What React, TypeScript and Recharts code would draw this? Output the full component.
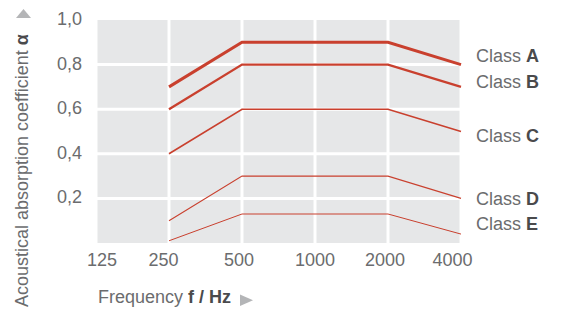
import { LineChart, Line, XAxis, YAxis, CartesianGrid, LabelList } from "recharts";

// Frequency bands (Hz) and reference curves per absorption class (ISO 11654)
const frequencies = ["125", "250", "500", "1000", "2000", "4000"];
const classA = [null, 0.7, 0.9, 0.9, 0.9, 0.8];
const classB = [null, 0.6, 0.8, 0.8, 0.8, 0.7];
const classC = [null, 0.4, 0.6, 0.6, 0.6, 0.5];
const classD = [null, 0.1, 0.3, 0.3, 0.3, 0.2];
const classE = [null, 0.01, 0.13, 0.13, 0.13, 0.04];
const yTicks = [0.2, 0.4, 0.6, 0.8, 1.0];
const gridValues = [0.2, 0.4, 0.6, 0.8];

const data = frequencies.map((f, i) => ({
  f,
  A: classA[i],
  B: classB[i],
  C: classC[i],
  D: classD[i],
  E: classE[i],
}));

const FONT = "'Liberation Sans', Arial, sans-serif";
const TEXT = "#6b6c6e";
const BOLD = "#4a4a4c";
const RED = "#c9402e";
const ARROW = "#b4b5b7";

// label nudges so the tick text sits like the original
const xLabelShift = [6, -5.5, -3, 0, -3, -8.5];

function XTick(props: any) {
  const { x, y, payload } = props;
  const i = frequencies.indexOf(String(payload.value));
  return (
    <text x={x + (xLabelShift[i] ?? 0)} y={y + 23} textAnchor="middle" fontSize={18} fill={TEXT} fontFamily={FONT}>
      {payload.value}
    </text>
  );
}

function YTick(props: any) {
  const { x, y, payload } = props;
  return (
    <text x={x - 14} y={y + 5} textAnchor="end" fontSize={18} fill={TEXT} fontFamily={FONT}>
      {Number(payload.value).toFixed(1).replace(".", ",")}
    </text>
  );
}

function classLabel(name: string, dy: number) {
  return (props: any) => {
    if (props.index !== frequencies.length - 1) return null;
    return (
      <text x={props.x + 15} y={props.y + dy} fontSize={18} fill={TEXT} fontFamily={FONT}>
        <tspan>Class </tspan>
        <tspan fontWeight={700} fill={BOLD}>{name}</tspan>
      </text>
    );
  };
}

function YTitle() {
  return (
    <g fontFamily={FONT} fontSize={18}>
      <polygon points="16,18 31,18 23.5,9" fill={ARROW} />
      <text x={28} y={307} transform="rotate(-90, 28, 307)" fill={TEXT}>
        <tspan>Acoustical absorption coefficient </tspan>
        <tspan fontWeight={700} fill={BOLD}>α</tspan>
      </text>
    </g>
  );
}

function XTitle() {
  return (
    <g fontFamily={FONT} fontSize={18}>
      <text x={98} y={303} fill={TEXT}>
        <tspan>Frequency </tspan>
        <tspan fontWeight={700} fill={BOLD}>f / Hz</tspan>
      </text>
      <polygon points="240,294.5 240,306 253,300.2" fill={ARROW} />
    </g>
  );
}

const series = [
  { key: "A", width: 3, dy: -2.6 },
  { key: "B", width: 2.4, dy: 1 },
  { key: "C", width: 1.6, dy: 10.5 },
  { key: "D", width: 1.1, dy: 6.6 },
  { key: "E", width: 1, dy: -4 },
];

export default function App() {
  return (
    <div style={{ position: "absolute", left: 0, top: 0, width: 562, height: 311, background: "#fff" }}>
      <LineChart width={562} height={311} data={data} margin={{ top: 20, right: 101, bottom: 0, left: 0 }}>
        <CartesianGrid fill="#e6e7e8" stroke="#ffffff" strokeWidth={3} horizontalValues={gridValues} />
        <XAxis
          dataKey="f"
          height={68}
          axisLine={false}
          tickLine={false}
          tickSize={0}
          tickMargin={0}
          interval={0}
          tick={<XTick />}
          label={<XTitle />}
        />
        <YAxis
          width={96}
          domain={[0, 1]}
          ticks={yTicks}
          axisLine={false}
          tickLine={false}
          tickSize={0}
          tickMargin={0}
          tick={<YTick />}
          label={<YTitle />}
        />
        {series.map((s) => (
          <Line
            key={s.key}
            type="linear"
            dataKey={s.key}
            stroke={RED}
            strokeWidth={s.width}
            dot={false}
            activeDot={false}
            isAnimationActive={false}
          >
            <LabelList dataKey={s.key} content={classLabel(s.key, s.dy)} />
          </Line>
        ))}
      </LineChart>
    </div>
  );
}
